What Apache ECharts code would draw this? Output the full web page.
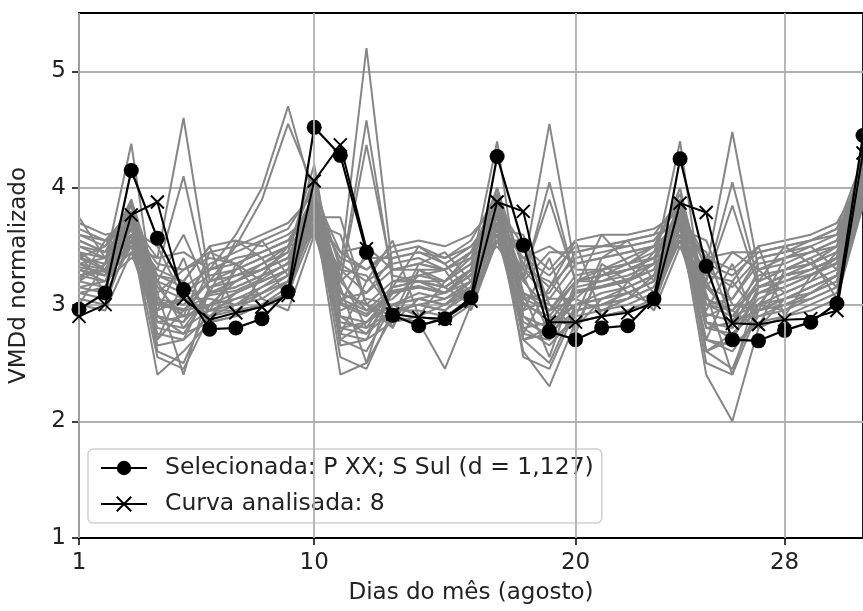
<!DOCTYPE html>
<html>
<head>
<meta charset="utf-8">
<script src="https://cdn.jsdelivr.net/npm/echarts@6/dist/echarts.min.js"></script>
<style>
  html, body { margin: 0; padding: 0; background: #fff; }
  #main { width: 863px; height: 611px; }
</style>
</head>
<body>
<div id="main"></div>
<script>
// dias 1..31 de agosto
const days = [1,2,3,4,5,6,7,8,9,10,11,12,13,14,15,16,17,18,19,20,21,22,23,24,25,26,27,28,29,30,31];
const xTicks = [1, 10, 20, 28];
const yTicks = [1, 2, 3, 4, 5];

const selectedName = 'Selecionada: P XX; S Sul (d = 1,127)';
const selected = [2.96,3.1,4.15,3.57,3.13,2.79,2.8,2.88,3.11,4.52,4.28,3.45,2.91,2.82,2.88,3.06,4.27,3.51,2.77,2.7,2.8,2.82,3.05,4.25,3.33,2.7,2.69,2.78,2.85,3.01,4.45];

const analysedName = 'Curva analisada: 8';
const analysed = [2.9,3.0,3.77,3.88,3.05,2.87,2.93,2.98,3.08,4.06,4.37,3.48,2.92,2.89,2.88,3.03,3.88,3.8,2.85,2.85,2.9,2.93,3.02,3.87,3.79,2.84,2.83,2.87,2.88,2.95,4.3];

// demais curvas (cinza)
const g01 = [3.32,3.28,3.72,3.02,2.96,3.08,3.12,3.22,3.36,3.86,3.02,2.92,3.12,3.16,3.1,3.26,3.82,3.02,2.86,3.12,3.16,3.22,3.3,3.76,2.92,2.86,3.1,3.2,3.26,3.36,4.05];
const g02 = [3.55,3.45,3.9,3.2,3.1,3.25,3.3,3.4,3.5,4.05,3.3,3.1,3.3,3.35,3.3,3.4,4.0,3.3,3.05,3.35,3.4,3.45,3.5,3.95,3.15,3.05,3.35,3.4,3.45,3.55,4.2];
const g03 = [3.1,3.05,3.55,2.75,2.7,2.9,2.95,3.0,3.15,3.7,2.8,2.75,2.95,2.95,2.9,3.05,3.65,2.8,2.65,2.9,2.95,3.0,3.1,3.6,2.7,2.6,2.9,2.95,3.05,3.15,3.95];
const g04 = [3.7,3.6,3.65,3.35,3.3,3.45,3.5,3.6,3.7,3.95,3.45,3.3,3.5,3.55,3.5,3.6,3.85,3.5,3.3,3.55,3.6,3.6,3.65,3.8,3.4,3.3,3.5,3.55,3.6,3.7,4.1];
const g05 = [3.2,3.35,3.8,2.6,2.5,3.0,3.1,3.2,3.3,4.0,2.7,2.6,3.0,3.1,3.05,3.2,3.95,2.7,2.5,3.0,3.1,3.15,3.25,3.9,2.6,2.45,3.0,3.1,3.2,3.3,4.15];
const g06 = [3.4,3.3,3.5,3.4,4.6,3.2,3.3,3.4,3.5,3.6,3.3,5.2,3.3,3.3,3.2,3.4,3.6,3.3,4.55,3.3,3.3,3.4,3.5,3.6,3.3,4.48,3.3,3.4,3.45,3.5,4.0];
const g07 = [3.3,3.2,3.4,3.3,4.1,3.1,3.2,3.3,3.4,3.6,3.2,4.58,3.2,3.2,3.1,3.3,3.5,3.2,4.05,3.2,3.25,3.3,3.4,3.5,3.2,4.05,3.2,3.3,3.35,3.45,3.95];
const g08 = [3.35,3.25,3.45,3.2,3.6,3.1,3.15,3.25,3.35,3.65,3.2,4.37,3.25,3.2,3.15,3.3,3.55,3.25,3.9,3.2,3.25,3.3,3.35,3.55,3.2,3.85,3.15,3.25,3.3,3.4,3.95];
const g09 = [3.25,3.3,3.6,2.9,2.85,3.3,3.6,4.0,4.7,3.9,3.0,2.9,3.1,3.15,3.1,3.3,3.75,3.0,2.9,3.2,3.3,3.35,3.4,3.7,3.0,2.9,3.2,3.3,3.35,3.45,4.05];
const g10 = [3.3,3.25,3.65,3.0,2.95,3.2,3.5,3.9,4.55,4.0,3.05,2.95,3.15,3.2,3.15,3.3,3.8,3.05,2.95,3.2,3.25,3.3,3.4,3.75,3.0,2.95,3.15,3.25,3.3,3.4,4.0];
const g11 = [3.05,3.0,3.6,2.4,2.6,2.85,2.9,3.0,3.1,3.8,2.4,2.5,2.9,2.85,2.45,3.0,3.7,2.6,2.3,2.85,2.9,2.95,3.0,3.7,2.4,2.0,2.8,2.9,2.95,3.05,3.9];
const g12 = [3.45,3.4,3.85,3.1,2.4,3.15,3.2,3.3,3.4,3.9,3.15,2.5,3.2,3.2,3.2,3.35,3.9,3.1,2.55,3.2,3.2,3.3,3.4,3.85,3.1,2.4,3.15,3.25,3.3,3.4,4.1];
const g13 = [3.6,3.5,3.75,3.25,3.15,3.3,3.4,3.45,3.55,3.9,3.35,3.2,3.35,3.4,3.3,3.45,3.9,3.35,3.15,3.4,3.45,3.5,3.55,3.85,3.3,3.15,3.4,3.45,3.5,3.6,4.2];
const g14 = [3.15,3.1,3.5,2.85,2.8,2.95,3.0,3.05,3.2,3.75,2.85,2.8,2.95,3.0,2.95,3.1,3.7,2.85,2.75,2.95,3.0,3.05,3.15,3.65,2.8,2.75,2.95,3.0,3.1,3.2,3.9];
const g15 = [3.4,3.35,4.38,2.9,2.85,3.1,3.2,3.3,3.45,4.2,2.9,2.85,3.1,3.15,3.1,3.3,4.4,2.9,2.8,3.1,3.15,3.2,3.35,4.4,2.85,2.8,3.05,3.15,3.25,3.4,4.3];
const g16 = [3.5,3.4,3.6,3.3,3.2,3.5,3.55,3.5,3.6,3.8,3.4,3.3,3.45,3.5,3.4,3.5,3.7,3.4,3.25,3.5,3.5,3.55,3.6,3.7,3.35,3.25,3.45,3.5,3.55,3.65,4.0];
const g17 = [3.25,3.2,3.7,2.7,2.95,3.0,3.05,3.15,3.25,3.95,2.7,2.85,3.0,3.05,3.0,3.15,3.85,2.7,2.8,3.0,3.05,3.1,3.2,3.8,2.6,2.75,3.0,3.05,3.15,3.25,4.05];
const g18 = [3.35,3.3,3.65,3.15,3.05,2.9,3.1,3.2,3.3,3.75,3.1,3.0,2.85,3.05,3.1,3.2,3.7,3.1,3.0,2.8,3.05,3.15,3.25,3.65,3.05,2.95,2.8,3.05,3.15,3.25,3.95];
const g19 = [3.0,2.95,3.45,2.8,2.75,2.85,2.9,3.0,3.1,3.65,2.75,2.7,2.85,2.9,2.85,3.0,3.6,2.75,2.7,2.85,2.9,2.95,3.05,3.55,2.7,2.65,2.85,2.9,3.0,3.1,3.85];
const g20 = [3.45,3.3,3.8,3.05,3.0,3.2,3.25,3.35,3.45,4.1,3.1,3.0,3.2,3.25,3.2,3.35,4.0,3.1,2.95,3.25,3.3,3.35,3.45,4.0,3.05,2.95,3.25,3.3,3.4,3.5,4.15];
const g21 = [3.2,3.15,3.6,2.55,2.45,2.9,3.0,3.1,3.25,3.85,2.55,2.45,2.95,3.0,2.95,3.15,3.8,2.55,2.45,2.95,3.0,3.1,3.2,3.75,2.5,2.4,2.95,3.05,3.15,3.25,4.0];
const g22 = [3.5,3.45,3.7,3.1,3.3,3.4,3.35,3.45,3.55,3.85,3.2,3.4,3.4,3.45,3.35,3.5,3.8,3.2,3.45,3.45,3.5,3.5,3.55,3.75,3.15,3.45,3.45,3.5,3.55,3.6,4.05];
const g23 = [3.3,3.25,3.75,2.9,2.75,3.1,3.15,3.25,3.35,3.9,2.9,2.75,3.1,3.15,3.1,3.25,3.85,2.9,2.7,3.1,3.15,3.2,3.3,3.8,2.85,2.7,3.1,3.15,3.25,3.35,4.1];
const g24 = [3.4,3.5,3.85,3.15,2.9,3.0,3.2,3.35,3.5,3.95,3.2,2.95,3.05,3.25,3.3,3.45,3.9,3.2,2.95,3.05,3.25,3.35,3.5,3.9,3.15,2.9,3.0,3.25,3.35,3.5,4.2];
const g25 = [3.15,3.2,3.55,3.25,3.2,2.95,2.95,3.1,3.2,3.7,3.3,3.25,2.95,3.0,3.05,3.15,3.65,3.3,3.2,2.95,3.0,3.05,3.15,3.6,3.25,3.2,2.9,3.0,3.05,3.15,3.9];
const g26 = [3.65,3.55,3.8,3.0,3.05,3.35,3.45,3.55,3.65,4.0,3.05,3.1,3.4,3.45,3.4,3.55,3.95,3.05,3.1,3.45,3.5,3.55,3.6,3.9,3.0,3.05,3.4,3.45,3.55,3.65,4.25];
const g27 = [3.25,3.3,3.65,2.95,3.05,3.05,3.0,3.15,3.3,3.8,2.95,3.05,3.0,2.9,3.0,3.2,3.75,2.95,3.05,3.05,2.95,3.05,3.25,3.7,2.9,3.0,3.0,2.95,3.1,3.25,4.0];
const g28 = [3.35,3.4,3.75,2.65,2.7,3.15,3.25,3.3,3.4,3.95,2.65,2.7,3.15,3.2,3.15,3.3,3.85,2.7,2.75,3.15,3.2,3.25,3.35,3.85,2.6,2.7,3.15,3.2,3.3,3.4,4.1];
const g29 = [3.55,3.45,3.7,3.4,3.45,3.3,3.35,3.45,3.55,3.75,3.45,3.5,3.3,3.35,3.3,3.45,3.7,3.4,3.5,3.35,3.4,3.45,3.5,3.7,3.4,3.45,3.3,3.35,3.45,3.55,4.0];
const g30 = [3.1,3.15,3.7,2.85,2.9,2.95,3.05,3.1,3.2,3.9,2.8,2.85,3.0,3.05,3.0,3.1,3.8,2.8,2.85,3.0,3.05,3.1,3.2,3.8,2.8,2.85,2.95,3.05,3.1,3.2,4.0];
const g31 = [3.6,3.55,3.5,3.05,2.9,3.45,3.35,3.2,3.3,3.75,3.75,3.0,2.8,3.3,3.15,3.0,3.55,3.55,2.9,2.8,3.3,3.1,3.0,3.6,3.45,2.85,3.3,3.1,3.2,3.45,3.95];
const g32 = [3.0,3.35,3.55,2.95,3.4,2.8,3.35,3.05,2.95,3.6,3.0,3.45,2.8,3.3,3.3,2.95,3.55,2.95,3.4,2.75,3.35,3.2,2.95,3.5,2.95,3.35,2.8,3.3,3.4,3.05,3.85];
const g33 = [3.45,3.1,3.9,2.7,3.2,3.5,2.9,3.25,3.5,3.75,2.75,3.2,3.55,2.9,3.2,3.45,3.75,2.75,3.15,3.55,2.9,3.2,3.45,3.7,2.7,3.2,3.5,2.9,3.25,3.4,4.05];
const g34 = [3.75,3.4,3.6,3.2,2.8,3.1,3.55,3.4,3.05,3.85,3.25,2.8,3.15,3.5,3.35,3.1,3.8,3.25,2.75,3.15,3.6,3.35,3.1,3.75,3.2,2.8,3.2,3.5,3.35,3.15,4.0];
const g35 = [3.2,3.55,3.65,3.5,3.05,2.95,3.3,3.55,3.25,3.7,3.6,3.0,2.9,3.35,3.45,3.2,3.65,3.6,3.0,2.9,3.4,3.55,3.2,3.65,3.55,3.0,2.95,3.4,3.5,3.3,3.95];

const others = [g01,g02,g03,g04,g05,g06,g07,g08,g09,g10,g11,g12,g13,g14,g15,g16,g17,g18,g19,g20,
                g21,g22,g23,g24,g25,g26,g27,g28,g29,g30,g31,g32,g33,g34,g35];

const font = 'DejaVu Sans';
const fs = 23;
const pair = arr => days.map((d, i) => [d, arr[i]]);

const series = others.map((arr, i) => ({
  name: 'outra ' + (i + 1),
  type: 'line',
  data: pair(arr),
  symbol: 'none',
  silent: true,
  z: 2,
  lineStyle: { color: '#868686', width: 2 }
}));

// linhas verticais da grade (só nos ticks 1, 10, 20, 28)
series.push({
  name: 'grade',
  type: 'line',
  data: [],
  silent: true,
  z: 1,
  markLine: {
    silent: true,
    symbol: 'none',
    label: { show: false },
    lineStyle: { color: '#b0b0b0', width: 1.8, type: 'solid' },
    data: xTicks.map(v => ({ xAxis: v }))
  }
});

series.push({
  name: selectedName,
  type: 'line',
  data: pair(selected),
  symbol: 'circle',
  symbolSize: 15,
  z: 4,
  lineStyle: { color: '#000', width: 2.2 },
  itemStyle: { color: '#000' }
});

series.push({
  name: analysedName,
  type: 'line',
  data: pair(analysed),
  symbol: 'path://M0,0L10,10M10,0L0,10',
  symbolSize: 13,
  z: 5,
  lineStyle: { color: '#000', width: 2 },
  itemStyle: { color: '#000', borderColor: '#000', borderWidth: 2 }
});

const chart = echarts.init(document.getElementById('main'), null, { renderer: 'canvas' });
chart.setOption({
  animation: false,
  backgroundColor: '#fff',
  textStyle: { fontFamily: font },
  grid: {
    left: 77, top: 13, width: 798, height: 525,
    show: true, borderColor: '#000', borderWidth: 1.8
  },
  legend: {
    data: [selectedName, analysedName],
    orient: 'vertical',
    left: 88, top: 449,
    padding: [6, 8, 6, 12],
    itemWidth: 46, itemHeight: 18, itemGap: 10,
    backgroundColor: 'rgba(255,255,255,0.85)',
    borderColor: '#d0d0d0', borderWidth: 1.5, borderRadius: 5,
    textStyle: { fontFamily: font, fontSize: 23.5, lineHeight: 26, color: '#222', padding: [0, 0, 0, 13] }
  },
  xAxis: {
    type: 'value',
    min: 1, max: 31,
    name: 'Dias do mês (agosto)',
    nameLocation: 'middle',
    nameGap: 44,
    nameTextStyle: { fontFamily: font, fontSize: fs, color: '#222' },
    axisLine: { show: true, onZero: false, lineStyle: { color: '#000', width: 1.8 } },
    axisTick: { show: true, length: 7, customValues: xTicks, lineStyle: { color: '#000', width: 1.5 } },
    axisLabel: { customValues: xTicks, margin: 14, fontFamily: font, fontSize: fs, color: '#222' },
    splitLine: { show: false }
  },
  yAxis: {
    type: 'value',
    min: 1, max: 5.5,
    name: 'VMDd normalizado',
    nameLocation: 'middle',
    nameGap: 48,
    nameTextStyle: { fontFamily: font, fontSize: fs, color: '#222' },
    axisLine: { show: true, onZero: false, lineStyle: { color: '#000', width: 1.8 } },
    axisTick: { show: true, length: 7, customValues: yTicks, lineStyle: { color: '#000', width: 1.5 } },
    axisLabel: { customValues: yTicks, margin: 13, fontFamily: font, fontSize: fs, color: '#222' },
    splitLine: { show: true, lineStyle: { color: '#b0b0b0', width: 1.8 } }
  },
  series: series
});
</script>
</body>
</html>
